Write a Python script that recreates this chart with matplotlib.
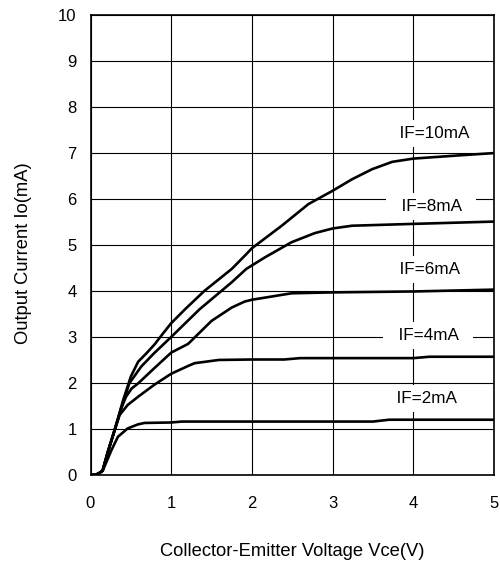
import matplotlib
matplotlib.use('Agg')
import matplotlib.pyplot as plt

plt.rcParams['font.family'] = ['Liberation Sans', 'DejaVu Sans']

# curves: Vce (V) vs Io (mA)
vce_2 = [0, 0.06, 0.10, 0.15, 0.19, 0.26, 0.34, 0.46, 0.59, 0.67, 1.0, 1.13, 2.0, 3.0, 3.5, 3.7, 4.0, 5.0]
io_2 = [0, 0.0, 0.03, 0.09, 0.25, 0.54, 0.83, 1.01, 1.10, 1.13, 1.14, 1.16, 1.16, 1.16, 1.16, 1.2, 1.2, 1.2]

vce_4 = [0, 0.06, 0.10, 0.15, 0.21, 0.30, 0.36, 0.46, 0.59, 0.79, 1.0, 1.21, 1.29, 1.59, 2.0, 2.4, 2.6, 4.0, 4.2, 5.0]
io_4 = [0, 0.0, 0.03, 0.09, 0.47, 0.98, 1.30, 1.52, 1.70, 1.96, 2.20, 2.37, 2.43, 2.50, 2.51, 2.51, 2.54, 2.54, 2.57, 2.57]

vce_6 = [0, 0.06, 0.10, 0.15, 0.21, 0.30, 0.38, 0.44, 0.51, 0.59, 0.79, 1.0, 1.21, 1.5, 1.75, 1.91, 2.0, 2.49, 3.0, 4.0, 5.0]
io_6 = [0, 0.0, 0.03, 0.09, 0.47, 0.98, 1.45, 1.70, 1.88, 1.99, 2.32, 2.66, 2.85, 3.35, 3.64, 3.77, 3.81, 3.95, 3.97, 3.99, 4.03]

vce_8 = [0, 0.06, 0.10, 0.15, 0.21, 0.30, 0.40, 0.48, 0.63, 0.79, 1.0, 1.35, 1.75, 1.93, 2.16, 2.49, 2.78, 3.0, 3.24, 4.0, 5.0]
io_8 = [0, 0.0, 0.03, 0.09, 0.47, 0.98, 1.55, 1.99, 2.36, 2.65, 3.0, 3.6, 4.19, 4.48, 4.73, 5.06, 5.26, 5.36, 5.42, 5.46, 5.51]

vce_10 = [0, 0.06, 0.10, 0.15, 0.21, 0.30, 0.40, 0.50, 0.59, 0.69, 0.79, 0.90, 1.0, 1.17, 1.41, 1.75, 1.93,
          2.0, 2.37, 2.70, 3.0, 3.24, 3.49, 3.74, 4.0, 4.24, 4.65, 5.0]
io_10 = [0, 0.0, 0.03, 0.09, 0.47, 0.98, 1.60, 2.14, 2.46, 2.64, 2.83, 3.08, 3.30, 3.60, 4.0, 4.48, 4.80,
         4.93, 5.42, 5.89, 6.18, 6.43, 6.65, 6.81, 6.88, 6.91, 6.96, 7.0]

labels = ['IF=2mA', 'IF=4mA', 'IF=6mA', 'IF=8mA', 'IF=10mA']
label_x = [4.16, 4.18, 4.2, 4.22, 4.26]
label_y = [1.67, 3.04, 4.46, 5.83, 7.43]

fig = plt.figure(figsize=(5.0, 5.62), dpi=100)
ax = fig.add_axes([0.181, 0.155, 0.807, 0.818])

for xs, ys in [(vce_2, io_2), (vce_4, io_4), (vce_6, io_6), (vce_8, io_8), (vce_10, io_10)]:
    ax.plot(xs, ys, color='black', linewidth=1.9, solid_joinstyle='round', zorder=3)

for t, tx, ty in zip(labels, label_x, label_y):
    ax.text(tx, ty, '  ' + t + '  ', ha='center', va='center', fontsize=12.3,
            bbox=dict(facecolor='white', edgecolor='none', boxstyle='square,pad=0.35'), zorder=4)

ax.set_xlim(0, 5)
ax.set_ylim(0, 10)
ax.set_xticks(range(0, 6))
ax.set_yticks(range(0, 11))
ax.grid(True, color='black', linewidth=0.8)
ax.set_axisbelow(True)
ax.tick_params(length=0, labelsize=12)
ax.tick_params(axis='x', pad=15)
ax.tick_params(axis='y', pad=10)
for s in ax.spines.values():
    s.set_linewidth(1.2)

ax.set_xlabel('Collector-Emitter Voltage Vce(V)', fontsize=13.2)
ax.set_ylabel('Output Current Io(mA)', fontsize=13.2)
ax.xaxis.set_label_coords(0.5, -0.148)
ax.yaxis.set_label_coords(-0.1455, 0.4815)

fig.savefig('out.png', dpi=100)
